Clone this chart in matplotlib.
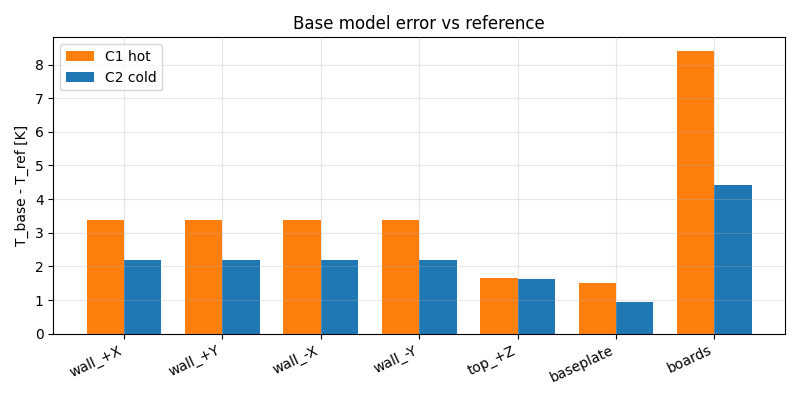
import numpy as np
import matplotlib.pyplot as plt

labels = ["wall_+X", "wall_+Y", "wall_-X", "wall_-Y", "top_+Z", "baseplate", "boards"]
c1_hot = [3.39, 3.39, 3.39, 3.39, 1.64, 1.52, 8.39]
c2_cold = [2.20, 2.20, 2.20, 2.20, 1.61, 0.93, 4.42]

x = np.arange(len(labels))
w = 0.38

fig, ax = plt.subplots(figsize=(8, 4), dpi=100)
ax.bar(x - w / 2, c1_hot, w, color="tab:orange", label="C1 hot")
ax.bar(x + w / 2, c2_cold, w, color="tab:blue", label="C2 cold")
ax.set_xticks(x)
ax.set_xticklabels(labels, rotation=25, ha="right")
ax.set_ylabel("T_base - T_ref [K]")
ax.set_title("Base model error vs reference")
ax.set_axisbelow(False)
ax.grid(alpha=0.3)
ax.legend(loc="upper left")
fig.tight_layout()
fig.savefig("out.png")
